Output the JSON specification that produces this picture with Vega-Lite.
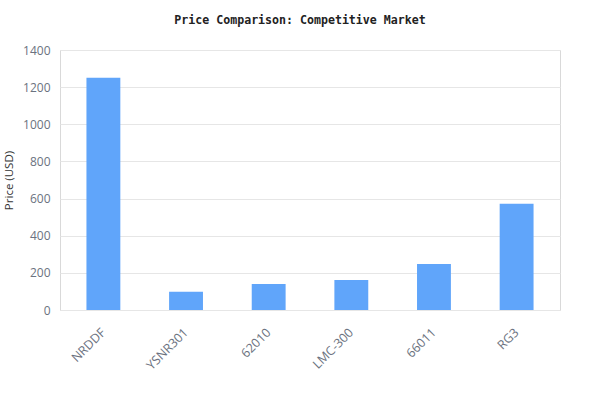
{
  "$schema": "https://vega.github.io/schema/vega-lite/v6.json",
  "width": 500,
  "height": 260,
  "autosize": {"type": "none"},
  "padding": {"left": 60, "top": 50, "right": 40, "bottom": 110},
  "background": "white",
  "title": {
    "text": "Price Comparison: Competitive Market",
    "font": "DejaVu Sans Mono",
    "fontSize": 11.6,
    "fontWeight": "bold",
    "color": "#222222",
    "anchor": "middle",
    "dx": -10,
    "offset": 17
  },
  "data": {
    "values": [
      {"model": "NRDDF", "price": 1250},
      {"model": "YSNR301", "price": 98},
      {"model": "62010", "price": 140},
      {"model": "LMC-300", "price": 161},
      {"model": "66011", "price": 248},
      {"model": "RG3", "price": 572}
    ]
  },
  "mark": {"type": "bar", "color": "#60A5FA"},
  "encoding": {
    "x": {
      "field": "model",
      "type": "nominal",
      "sort": null,
      "scale": {"paddingInner": 0.59, "paddingOuter": 0.32},
      "axis": {
        "title": null,
        "labelAngle": -45,
        "labelAlign": "right",
        "labelBaseline": "middle",
        "labelColor": "#6b7280",
        "labelFont": "Open Sans",
        "labelFontSize": 12.5,
        "labelPadding": 20,
        "ticks": false,
        "domain": false,
        "grid": false
      }
    },
    "y": {
      "field": "price",
      "type": "quantitative",
      "scale": {"domain": [0, 1400]},
      "axis": {
        "title": "Price (USD)",
        "titleFont": "Open Sans",
        "titleFontSize": 11.5,
        "titleFontWeight": "normal",
        "titleColor": "#333333",
        "titlePadding": 8,
        "format": "d",
        "values": [0, 200, 400, 600, 800, 1000, 1200, 1400],
        "labelColor": "#6b7280",
        "labelFont": "Open Sans",
        "labelFontSize": 12,
        "labelPadding": 10,
        "ticks": false,
        "domain": false,
        "gridColor": "#e6e6e6"
      }
    }
  },
  "config": {
    "view": {"stroke": "#d9d9d9", "strokeWidth": 1}
  }
}
